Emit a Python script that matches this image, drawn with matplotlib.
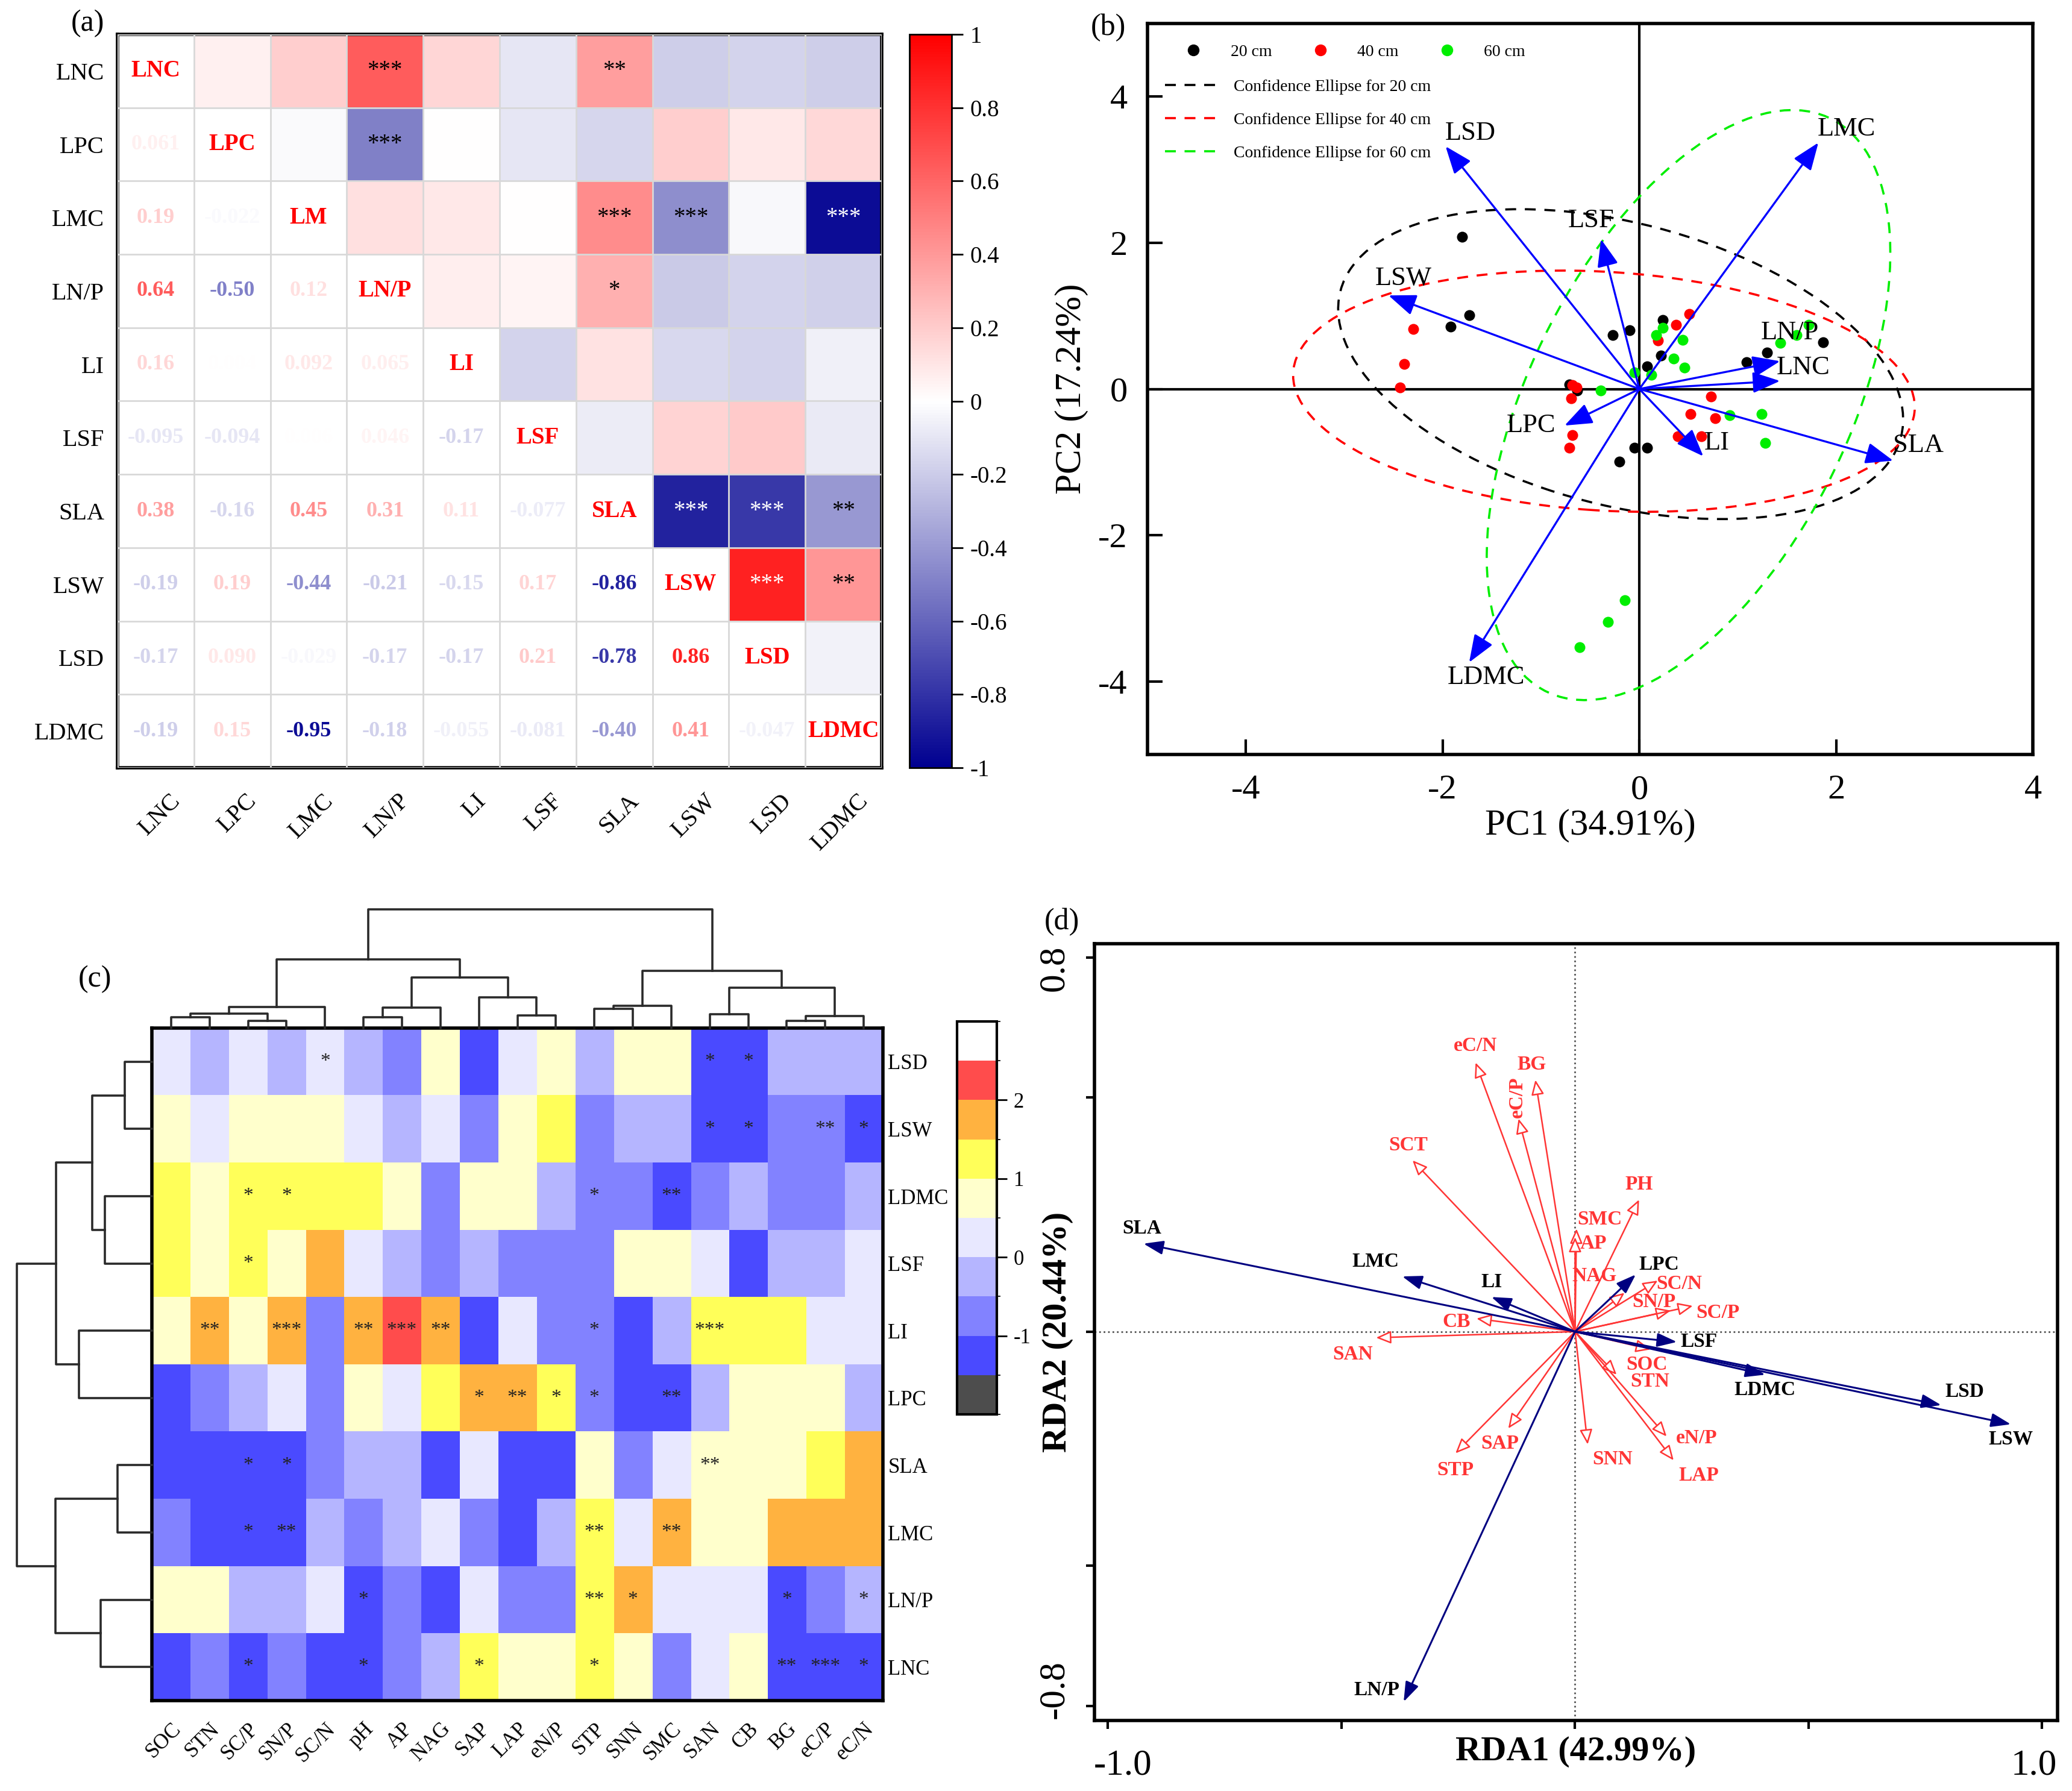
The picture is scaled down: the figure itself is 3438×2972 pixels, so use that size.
import numpy as np
import matplotlib
matplotlib.use('Agg')
import matplotlib.pyplot as plt
from matplotlib.colors import LinearSegmentedColormap, ListedColormap, BoundaryNorm
from matplotlib.patches import Ellipse
from matplotlib.lines import Line2D
from matplotlib.transforms import ScaledTranslation

plt.rcParams['font.family'] = ['Liberation Serif', 'DejaVu Serif']
plt.rcParams['axes.unicode_minus'] = False

# ---------------- (a) correlation matrix of leaf traits ----------------
traits = ['LNC', 'LPC', 'LMC', 'LN/P', 'LI', 'LSF', 'SLA', 'LSW', 'LSD', 'LDMC']
diag_labels = ['LNC', 'LPC', 'LM', 'LN/P', 'LI', 'LSF', 'SLA', 'LSW', 'LSD', 'LDMC']
corr_lower = [
    [],
    [0.061],
    [0.19, -0.022],
    [0.64, -0.50, 0.12],
    [0.16, 0.004, 0.092, 0.065],
    [-0.095, -0.094, 0.006, 0.046, -0.17],
    [0.38, -0.16, 0.45, 0.31, 0.11, -0.077],
    [-0.19, 0.19, -0.44, -0.21, -0.15, 0.17, -0.86],
    [-0.17, 0.090, -0.029, -0.17, -0.17, 0.21, -0.78, 0.86],
    [-0.19, 0.15, -0.95, -0.18, -0.055, -0.081, -0.40, 0.41, -0.047],
]
sig_rows = ['LNC', 'LNC', 'LPC', 'LMC', 'LMC', 'LMC', 'LN/P', 'SLA', 'SLA', 'SLA', 'LSW', 'LSW']
sig_cols = ['LN/P', 'SLA', 'LN/P', 'SLA', 'LSW', 'LDMC', 'SLA', 'LSW', 'LSD', 'LDMC', 'LSD', 'LDMC']
sig_marks = ['***', '**', '***', '***', '***', '***', '*', '***', '***', '**', '***', '**']
cbar_a_ticks = [-1, -0.8, -0.6, -0.4, -0.2, 0, 0.2, 0.4, 0.6, 0.8, 1]
cbar_a_labels = ['-1', '-0.8', '-0.6', '-0.4', '-0.2', '0', '0.2', '0.4', '0.6', '0.8', '1']

# ---------------- (b) PCA ----------------
pca_vars = ['LSD', 'LMC', 'LSF', 'LSW', 'LN/P', 'LNC', 'LPC', 'LI', 'SLA', 'LDMC']
pc1_load = [-1.97, 1.82, -0.39, -2.55, 1.43, 1.43, -0.76, 0.65, 2.58, -1.73]
pc2_load = [3.32, 3.37, 2.05, 1.28, 0.38, 0.11, -0.50, -0.92, -0.98, -3.74]
pc1_20 = [-1.80, -1.73, -1.92, -0.27, -0.10, 0.24, 0.22, 0.08, 1.09, 1.30, 1.87, -0.71, -0.63, -0.05, 0.08, -0.20]
pc2_20 = [2.08, 1.01, 0.85, 0.74, 0.80, 0.94, 0.46, 0.31, 0.37, 0.50, 0.64, 0.06, -0.02, -0.80, -0.80, -0.99]
pc1_40 = [-2.30, -2.39, -2.43, -0.68, -0.64, -0.69, -0.68, -0.71, 0.19, 0.37, 0.51, 0.73, 0.52, 0.77, 0.39, 0.63]
pc2_40 = [0.82, 0.34, 0.02, 0.05, 0.02, -0.13, -0.63, -0.80, 0.66, 0.88, 1.03, -0.10, -0.34, -0.40, -0.65, -0.65]
pc1_60 = [0.17, 0.24, 0.44, 0.35, 0.46, -0.05, 0.12, -0.39, 1.43, 1.60, 1.72, 0.92, 1.24, 1.28, -0.15, -0.32, -0.61]
pc2_60 = [0.74, 0.84, 0.67, 0.42, 0.29, 0.23, 0.19, -0.02, 0.63, 0.74, 0.88, -0.36, -0.34, -0.74, -2.89, -3.19, -3.53]
depths = ['20 cm', '40 cm', '60 cm']
ell_cx = [-0.19, -0.36, 0.50]
ell_cy = [0.34, -0.03, -0.22]
ell_w = [6.08, 6.34, 8.40]
ell_h = [3.74, 3.26, 3.38]
ell_angle = [-24.6, -5.4, 72.4]

# ---------------- (c) clustered heatmap ----------------
soil_vars = ['SOC', 'STN', 'SC/P', 'SN/P', 'SC/N', 'pH', 'AP', 'NAG', 'SAP', 'LAP', 'eN/P',
             'STP', 'SNN', 'SMC', 'SAN', 'CB', 'BG', 'eC/P', 'eC/N']
heat_rows = ['LSD', 'LSW', 'LDMC', 'LSF', 'LI', 'LPC', 'SLA', 'LMC', 'LN/P', 'LNC']
heat_vals = [
    [0.25, -0.25, 0.25, -0.25, 0.25, -0.25, -0.75, 0.75, -1.25, 0.25, 0.75, -0.25, 0.75, 0.75, -1.25, -1.25, -0.25, -0.25, -0.25],
    [0.75, 0.25, 0.75, 0.75, 0.75, 0.25, -0.25, 0.25, -0.75, 0.75, 1.25, -0.75, -0.25, -0.25, -1.25, -1.25, -0.75, -0.75, -1.25],
    [1.25, 0.75, 1.25, 1.25, 1.25, 1.25, 0.75, -0.75, 0.75, 0.75, -0.25, -0.75, -0.75, -1.25, -0.75, -0.25, -0.75, -0.75, -0.25],
    [1.25, 0.75, 1.25, 0.75, 1.75, 0.25, -0.25, -0.75, -0.25, -0.75, -0.75, -0.75, 0.75, 0.75, 0.25, -1.25, -0.25, -0.25, 0.25],
    [0.75, 1.75, 0.75, 1.75, -0.75, 1.75, 2.25, 1.75, -1.25, 0.25, -0.75, -0.75, -1.25, -0.25, 1.25, 1.25, 1.25, 0.25, 0.25],
    [-1.25, -0.75, -0.25, 0.25, -0.75, 0.75, 0.25, 1.25, 1.75, 1.75, 1.25, -0.75, -1.25, -1.25, -0.25, 0.75, 0.75, 0.75, -0.25],
    [-1.25, -1.25, -1.25, -1.25, -0.75, -0.25, -0.25, -1.25, 0.25, -1.25, -1.25, 0.75, -0.75, 0.25, 0.75, 0.75, 0.75, 1.25, 1.75],
    [-0.75, -1.25, -1.25, -1.25, -0.25, -0.75, -0.25, 0.25, -0.75, -1.25, -0.25, 1.25, 0.25, 1.75, 0.75, 0.75, 1.75, 1.75, 1.75],
    [0.75, 0.75, -0.25, -0.25, 0.25, -1.25, -0.75, -1.25, 0.25, -0.75, -0.75, 1.25, 1.75, 0.25, 0.25, 0.25, -1.25, -0.75, -0.25],
    [-1.25, -0.75, -1.25, -0.75, -1.25, -1.25, -0.75, -0.25, 1.25, 0.75, 0.75, 1.25, 0.75, -0.75, 0.25, 0.75, -1.25, -1.25, -1.25],
]
heat_sig = {
    'LSD': {'SC/N': '*', 'SAN': '*', 'CB': '*'},
    'LSW': {'SAN': '*', 'CB': '*', 'eC/P': '**', 'eC/N': '*'},
    'LDMC': {'SC/P': '*', 'SN/P': '*', 'STP': '*', 'SMC': '**'},
    'LSF': {'SC/P': '*'},
    'LI': {'STN': '**', 'SN/P': '***', 'pH': '**', 'AP': '***', 'NAG': '**', 'STP': '*', 'SAN': '***'},
    'LPC': {'SAP': '*', 'LAP': '**', 'eN/P': '*', 'STP': '*', 'SMC': '**'},
    'SLA': {'SC/P': '*', 'SN/P': '*', 'SAN': '**'},
    'LMC': {'SC/P': '*', 'SN/P': '**', 'STP': '**', 'SMC': '**'},
    'LN/P': {'pH': '*', 'STP': '**', 'SNN': '*', 'BG': '*', 'eC/N': '*'},
    'LNC': {'SC/P': '*', 'pH': '*', 'SAP': '*', 'STP': '*', 'BG': '**', 'eC/P': '***', 'eC/N': '*'},
}
col_tree = (
    (((('SOC', 'STN', 0.091), ('SC/P', 'SN/P', 0.063), 0.120), 'SC/N', 0.176),
     ((('pH', 'AP', 0.091), 'NAG', 0.174), ('SAP', ('LAP', 'eN/P', 0.106), 0.260), 0.427), 0.581),
    ((('STP', 'SNN', 0.162), 'SMC', 0.188),
     (('SAN', 'CB', 0.116), (('BG', 'eC/P', 0.063), 'eC/N', 0.103), 0.342), 0.484),
    1.0)
row_tree = (
    ((('LSD', 'LSW', 0.203), ('LDMC', 'LSF', 0.346), 0.441), ('LI', 'LPC', 0.541), 0.710),
    (('SLA', 'LMC', 0.253), ('LN/P', 'LNC', 0.380), 0.714),
    1.0)
heat_bounds = [-2, -1.5, -1, -0.5, 0, 0.5, 1, 1.5, 2, 2.5, 3]
heat_colors = ['#4D4D4D', '#4A4AFF', '#8282FF', '#B5B5FF', '#E8E8FF',
               '#FFFFCC', '#FFFF59', '#FFB240', '#FF4C4C', '#FFFFFF']

# ---------------- (d) RDA ----------------
rda_traits = ['SLA', 'LMC', 'LI', 'LPC', 'LSF', 'LDMC', 'LSD', 'LSW', 'LN/P']
rda1_traits = [-0.924, -0.370, -0.179, 0.130, 0.218, 0.407, 0.784, 0.933, -0.367]
rda2_traits = [0.188, 0.118, 0.074, 0.122, -0.022, -0.092, -0.157, -0.198, -0.791]
rda_soil = ['eC/N', 'BG', 'eC/P', 'SCT', 'PH', 'SMC', 'AP', 'NAG', 'SC/N', 'SN/P', 'SC/P',
            'CB', 'SAN', 'SOC', 'STN', 'eN/P', 'LAP', 'SNN', 'SAP', 'STP']
rda1_soil = [-0.213, -0.085, -0.121, -0.348, 0.137, 0.003, 0.0, 0.106, 0.177, 0.205, 0.252,
             -0.211, -0.426, 0.162, 0.089, 0.196, 0.211, 0.027, -0.143, -0.256]
rda2_soil = [0.575, 0.538, 0.455, 0.366, 0.282, 0.220, 0.202, 0.083, 0.109, 0.045, 0.055,
             0.028, -0.013, -0.038, -0.092, -0.224, -0.275, -0.241, -0.207, -0.260]

# ---------------- figure ----------------
W, H = 3438, 2972
DPI = 200
fig = plt.figure(figsize=(W / DPI, H / DPI), dpi=DPI)


def frac_box(x0, y0, x1, y1):
    return [x0 / W, 1 - y1 / H, (x1 - x0) / W, (y1 - y0) / H]


def shift(dx_pt, dy_pt):
    return ScaledTranslation(dx_pt / 72, dy_pt / 72, fig.dpi_scale_trans)


# ======== panel (a) ========
ax_a = fig.add_axes(frac_box(195, 57, 1463, 1274))
n = len(traits)
M = np.eye(n)
for i, row in enumerate(corr_lower):
    for j, v in enumerate(row):
        M[i, j] = v
        M[j, i] = v
upper = np.ma.masked_where(np.tril(np.ones((n, n), bool)), M)
cmap_a = LinearSegmentedColormap.from_list(
    'bwr_a', [(0.0, '#000090'), (0.5, '#FFFFFF'), (1.0, '#FF0000')])
cmap_a.set_bad('white')
im_a = ax_a.imshow(upper, cmap=cmap_a, vmin=-1, vmax=1, aspect='auto', interpolation='nearest')
ax_a.set_xticks(np.arange(-0.5, n, 1), minor=True)
ax_a.set_yticks(np.arange(-0.5, n, 1), minor=True)
ax_a.grid(which='minor', color='#D8D8D8', lw=1.0)
ax_a.set_axisbelow(False)
ax_a.tick_params(which='both', length=0)
ax_a.set_xticks(range(n))
ax_a.set_yticks(range(n))
ax_a.set_xticklabels(traits, rotation=45, ha='right', rotation_mode='anchor', fontsize=14.5)
ax_a.set_yticklabels(traits, fontsize=14.5)
ax_a.tick_params(axis='x', pad=13)
ax_a.tick_params(axis='y', pad=8)
for lab in ax_a.get_xticklabels():
    lab.set_transform(lab.get_transform() + shift(8, 0))
for sp in ax_a.spines.values():
    sp.set_linewidth(2.0)


def fmt_r(v):
    return f'{v:.2f}' if abs(v) >= 0.1 else f'{v:.3f}'


for i in range(n):
    for j in range(n):
        if i > j:
            ax_a.text(j, i, fmt_r(M[i, j]), ha='center', va='center', fontsize=13,
                      fontweight='bold', color=cmap_a((M[i, j] + 1) / 2))
        elif i == j:
            ax_a.text(j, i, diag_labels[i], ha='center', va='center', fontsize=14,
                      fontweight='bold', color='#FF0000')
for r, c, s in zip(sig_rows, sig_cols, sig_marks):
    i, j = traits.index(r), traits.index(c)
    col = 'white' if abs(M[i, j]) > 0.7 else 'black'
    ax_a.text(j, i, s, ha='center', va='center', fontsize=14, color=col)

cax_a = fig.add_axes(frac_box(1509, 57, 1579, 1274))
cb_a = fig.colorbar(im_a, cax=cax_a, ticks=cbar_a_ticks)
cb_a.ax.set_yticklabels(cbar_a_labels, fontsize=14)
cb_a.ax.tick_params(length=7, width=1.0, pad=4)
cb_a.outline.set_linewidth(1.0)

# ======== panel (b) ========
ax_b = fig.add_axes(frac_box(1904, 39, 3373, 1252))
ax_b.set_xlim(-5, 4)
ax_b.set_ylim(-5, 5)
ax_b.axhline(0, color='black', lw=1.5, zorder=1)
ax_b.axvline(0, color='black', lw=1.5, zorder=1)
point_sets = [(pc1_20, pc2_20, 'black'), (pc1_40, pc2_40, '#FF0000'), (pc1_60, pc2_60, '#00EE00')]
ell_colors = ['black', '#FF0000', '#00EE00']
for (xs, ys, c) in point_sets:
    ax_b.scatter(xs, ys, s=42, color=c, zorder=2, linewidths=0)
for k in range(3):
    ax_b.add_patch(Ellipse((ell_cx[k], ell_cy[k]), ell_w[k], ell_h[k], angle=ell_angle[k],
                           fill=False, ec=ell_colors[k], ls=(0, (5, 4)), lw=1.3, zorder=2))
pca_dx = [15, 17, -6, 9, 6, 14, -20, 8, 15, 10]
pca_dy = [8, 8, 11, 10, 17, 8, 0, 8, 9, -9]
for name, x, y, dx, dy in zip(pca_vars, pc1_load, pc2_load, pca_dx, pca_dy):
    ax_b.annotate('', xy=(x, y), xytext=(0, 0),
                  arrowprops=dict(arrowstyle='-|>,head_length=0.7,head_width=0.27',
                                  color='#0000FF', lw=1.2, mutation_scale=20,
                                  shrinkA=0, shrinkB=0), zorder=3)
    ax_b.annotate(name, xy=(x, y), xytext=(dx, dy), textcoords='offset points',
                  ha='center', va='center', fontsize=16, zorder=4)
ax_b.set_xticks([-4, -2, 0, 2, 4])
ax_b.set_yticks([-4, -2, 0, 2, 4])
ax_b.tick_params(direction='in', length=9, width=1.5, labelsize=21, pad=12)
ax_b.set_xlabel('PC1 (34.91%)', fontsize=22)
ax_b.set_ylabel('PC2 (17.24%)', fontsize=22)
ax_b.xaxis.set_label_coords(0.5, -0.074)
ax_b.yaxis.set_label_coords(-0.067, 0.5)
for sp in ax_b.spines.values():
    sp.set_linewidth(2.0)
pt_handles = [Line2D([], [], ls='none', marker='o', ms=6, color=c) for c in ell_colors]
leg1 = ax_b.legend(pt_handles, depths, ncol=3, loc='upper left', bbox_to_anchor=(0.035, 0.981),
                   frameon=False, fontsize=10, handlelength=1.0, handletextpad=1.7,
                   columnspacing=2.4, borderaxespad=0)
ax_b.add_artist(leg1)
ln_handles = [Line2D([], [], ls=(0, (5, 4)), lw=1.3, color=c) for c in ell_colors]
ax_b.legend(ln_handles, ['Confidence Ellipse for ' + d for d in depths], loc='upper left',
            bbox_to_anchor=(0.012, 0.933), frameon=False, fontsize=10, handlelength=3.5,
            handletextpad=0.6, labelspacing=1.07, borderaxespad=0)

# ======== panel (c) ========
ax_c = fig.add_axes(frac_box(252, 1706, 1465, 2822))
cmap_c = ListedColormap(heat_colors)
norm_c = BoundaryNorm(heat_bounds, cmap_c.N)
im_c = ax_c.imshow(np.array(heat_vals), cmap=cmap_c, norm=norm_c, aspect='auto',
                   interpolation='nearest')
for i, r in enumerate(heat_rows):
    for c, s in heat_sig[r].items():
        ax_c.text(soil_vars.index(c), i, s, ha='center', va='center', fontsize=12,
                  color='#222222')
ax_c.set_xticks(range(len(soil_vars)))
ax_c.set_xticklabels(soil_vars, rotation=45, ha='right', rotation_mode='anchor', fontsize=12.5)
for lab in ax_c.get_xticklabels():
    lab.set_transform(lab.get_transform() + shift(5, 0))
ax_c.yaxis.tick_right()
ax_c.set_yticks(range(len(heat_rows)))
ax_c.set_yticklabels(heat_rows, fontsize=12.5)
ax_c.tick_params(length=0, pad=3)
ax_c.tick_params(axis='x', pad=11)
for sp in ax_c.spines.values():
    sp.set_linewidth(2.0)

ax_ct = fig.add_axes(frac_box(252, 1509, 1465, 1706))
ax_cl = fig.add_axes(frac_box(28, 1706, 252, 2822))


def draw_tree(ax, node, pos, horizontal):
    if isinstance(node, str):
        return pos[node], 0.0
    p1, h1 = draw_tree(ax, node[0], pos, horizontal)
    p2, h2 = draw_tree(ax, node[1], pos, horizontal)
    h = node[2]
    if horizontal:
        ax.plot([p1, p1, p2, p2], [h1, h, h, h2], color='#2a2a2a', lw=1.3, clip_on=False)
    else:
        ax.plot([h1, h, h, h2], [p1, p1, p2, p2], color='#2a2a2a', lw=1.3, clip_on=False)
    return (p1 + p2) / 2, h


draw_tree(ax_ct, col_tree, {v: k for k, v in enumerate(soil_vars)}, True)
ax_ct.set_xlim(-0.5, len(soil_vars) - 0.5)
ax_ct.set_ylim(0, 1.0)
ax_ct.axis('off')
draw_tree(ax_cl, row_tree, {v: k for k, v in enumerate(heat_rows)}, False)
ax_cl.set_ylim(len(heat_rows) - 0.5, -0.5)
ax_cl.set_xlim(1.0, 0)
ax_cl.axis('off')

cax_c = fig.add_axes(frac_box(1588, 1695, 1654, 2347))
cb_c = fig.colorbar(im_c, cax=cax_c, ticks=[-1, 0, 1, 2])
cb_c.ax.set_yticklabels(['-1', '0', '1', '2'], fontsize=12.5)
cb_c.ax.tick_params(length=6, width=1.0, pad=4)
cb_c.outline.set_linewidth(1.5)

# ======== panel (d) ========
ax_d = fig.add_axes(frac_box(1816, 1566, 3414, 2855))
ax_d.set_xlim(-1.029, 1.033)
ax_d.set_ylim(-0.831, 0.829)
ax_d.axhline(0, color='#555555', ls=':', lw=1.0, zorder=1)
ax_d.axvline(0, color='#555555', ls=':', lw=1.0, zorder=1)
red = '#FF3535'
soil_dx = [0, -2, -1, -2.5, 0, 14, 11, -18, 13, -10, 15, -12, -14, -2.5, 20, 18, 15, 15, -5, 0]
soil_dy = [10, 9, 13, 9, 9, 5.5, -4, 10, -2, 5, -4, -2, -10, -9, -4, -1, -9, -9, -9, -10]
for name, x, y, dx, dy in zip(rda_soil, rda1_soil, rda2_soil, soil_dx, soil_dy):
    ax_d.annotate('', xy=(x, y), xytext=(0, 0),
                  arrowprops=dict(arrowstyle='-|>,head_length=0.75,head_width=0.32',
                                  facecolor='white', edgecolor=red, lw=0.9, mutation_scale=10,
                                  shrinkA=0, shrinkB=0), zorder=2)
    ax_d.annotate(name, xy=(x, y), xytext=(dx, dy), textcoords='offset points',
                  ha='center', va='center', fontsize=12, fontweight='bold', color=red,
                  rotation=90 if name == 'eC/P' else 0, zorder=4)
trait_dx = [-1, -16, 0, 14, 13, 0, 14, 0, -16]
trait_dy = [9, 9, 9, 6, 0, -9, 8, -9, 7]
for name, x, y, dx, dy in zip(rda_traits, rda1_traits, rda2_traits, trait_dx, trait_dy):
    ax_d.annotate('', xy=(x, y), xytext=(0, 0),
                  arrowprops=dict(arrowstyle='-|>,head_length=1.0,head_width=0.35',
                                  color='#000080', lw=1.1, mutation_scale=10,
                                  shrinkA=0, shrinkB=0), zorder=3)
    ax_d.annotate(name, xy=(x, y), xytext=(dx, dy), textcoords='offset points',
                  ha='center', va='center', fontsize=12, fontweight='bold', color='black',
                  zorder=4)
ax_d.set_xticks([-1.0, -0.5, 0, 0.5, 1.0])
ax_d.set_xticklabels(['-1.0', '', '', '', '1.0'])
ax_d.set_yticks([-0.8, -0.5, 0, 0.5, 0.8])
ax_d.set_yticklabels(['-0.8', '', '', '', '0.8'], rotation=90, va='center')
ax_d.tick_params(direction='out', length=5, width=1.5, labelsize=22)
ax_d.tick_params(axis='x', pad=12)
ax_d.tick_params(axis='y', pad=9)
xl = ax_d.get_xticklabels()
xl[0].set_transform(xl[0].get_transform() + shift(9, 0))
xl[-1].set_transform(xl[-1].get_transform() + shift(-5, 0))
yl = ax_d.get_yticklabels()
yl[0].set_transform(yl[0].get_transform() + shift(0, 10))
yl[-1].set_transform(yl[-1].get_transform() + shift(0, -6.5))
ax_d.set_xlabel('RDA1 (42.99%)', fontsize=21, fontweight='bold')
ax_d.set_ylabel('RDA2 (20.44%)', fontsize=21, fontweight='bold')
ax_d.xaxis.set_label_coords(0.5, -0.02)
ax_d.yaxis.set_label_coords(-0.022, 0.5)
for sp in ax_d.spines.values():
    sp.set_linewidth(2.0)

# panel letters
for lbl, px, py in [('(a)', 146, 39), ('(b)', 1839, 46), ('(c)', 157, 1625), ('(d)', 1762, 1530)]:
    fig.text(px / W, 1 - py / H, lbl, ha='center', va='center', fontsize=18)

fig.savefig('out.png', dpi=DPI, facecolor='white')
